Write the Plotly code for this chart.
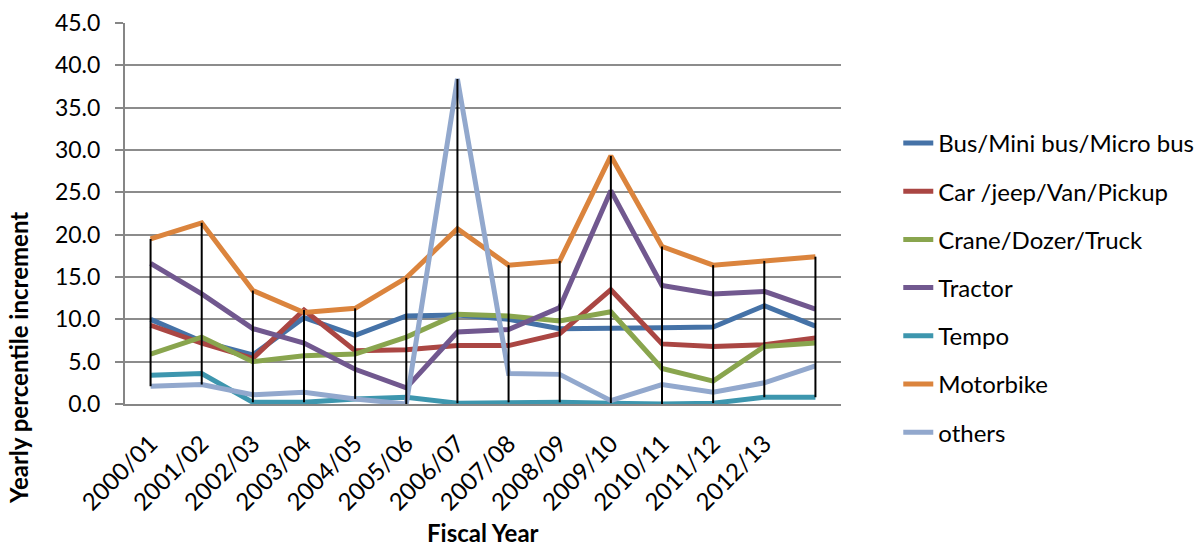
import plotly.graph_objects as go

# ---- data ----
fiscal_years = ["2000/01", "2001/02", "2002/03", "2003/04", "2004/05", "2005/06",
                "2006/07", "2007/08", "2008/09", "2009/10", "2010/11", "2011/12",
                "2012/13", ""]

bus = [10.0, 7.4, 5.8, 10.2, 8.1, 10.4, 10.5, 10.0, 8.9, 8.9, 9.0, 9.1, 11.6, 9.2]
car = [9.3, 7.2, 5.4, 11.1, 6.3, 6.4, 6.9, 6.9, 8.3, 13.5, 7.1, 6.8, 7.0, 7.8]
crane = [5.9, 7.9, 5.0, 5.7, 5.9, 7.9, 10.6, 10.4, 9.8, 10.9, 4.2, 2.7, 6.8, 7.2]
tractor = [16.6, 13.0, 8.9, 7.2, 4.1, 1.9, 8.5, 8.8, 11.4, 25.2, 14.0, 13.0, 13.3, 11.2]
tempo = [3.4, 3.6, 0.2, 0.2, 0.6, 0.8, 0.1, 0.2, 0.2, 0.1, 0.0, 0.1, 0.8, 0.8]
motorbike = [19.5, 21.4, 13.4, 10.8, 11.3, 14.9, 20.7, 16.4, 16.9, 29.3, 18.6, 16.4, 16.9, 17.4]
others = [2.1, 2.3, 1.1, 1.4, 0.6, 0.0, 38.4, 3.6, 3.5, 0.4, 2.3, 1.4, 2.5, 4.5]

series_names = ["Bus/Mini bus/Micro bus", "Car /jeep/Van/Pickup", "Crane/Dozer/Truck",
                "Tractor", "Tempo", "Motorbike", "others"]
series_values = [bus, car, crane, tractor, tempo, motorbike, others]
series_colors = ["#4572A7", "#AA4643", "#89A54E", "#71588F", "#3D96AE", "#DB843D", "#92A8CD"]

y_ticks = [0, 5, 10, 15, 20, 25, 30, 35, 40, 45]

x_title = "Fiscal Year"
y_title = "Yearly percentile increment"

FONT = "Lato, Calibri, Carlito, sans-serif"

x_idx = list(range(len(fiscal_years)))

fig = go.Figure()

for k, (name, vals, col) in enumerate(zip(series_names, series_values, series_colors)):
    fig.add_trace(go.Scatter(x=x_idx, y=vals, mode="lines", name=name,
                             legendgroup=f"g{k}",
                             line=dict(color=col, width=5, shape="linear")))

# high-low lines (from max to min at each category)
hx, hy = [], []
for i in x_idx:
    vals = [s[i] for s in series_values]
    hx += [i, i, None]
    hy += [max(vals), min(vals), None]
fig.add_trace(go.Scatter(x=hx, y=hy, mode="lines", line=dict(color="black", width=2),
                         showlegend=False, hoverinfo="skip"))

fig.update_layout(
    width=1202, height=548,
    paper_bgcolor="white", plot_bgcolor="white",
    margin=dict(l=125, r=361, t=23, b=144, autoexpand=False),
    font=dict(family=FONT, size=23, color="black"),
    showlegend=True,
    legend=dict(x=1.080, y=0.743, xanchor="left", yanchor="top",
                traceorder="grouped", tracegroupgap=14,
                font=dict(family=FONT, size=24, color="black"),
                bgcolor="rgba(0,0,0,0)"),
    annotations=[
        dict(text=f"<b>{x_title}</b>", xref="paper", yref="paper", x=0.5, y=-0.338,
             xanchor="center", yanchor="middle", showarrow=False,
             font=dict(family=FONT, size=24, color="black")),
        dict(text=f"<b>{y_title}</b>", xref="paper", yref="paper", x=-0.148, y=0.121,
             xanchor="center", yanchor="middle", showarrow=False, textangle=-90,
             font=dict(family=FONT, size=24, color="black")),
    ],
)

fig.update_xaxes(
    range=[-0.5, len(fiscal_years) - 0.5],
    tickmode="array", tickvals=x_idx[:-1], ticktext=fiscal_years[:-1],
    tickangle=-45, tickfont=dict(family=FONT, size=24),
    showgrid=False, zeroline=False,
    showline=True, linecolor="#868686", linewidth=2,
    ticks="outside", ticklen=14, tickcolor="rgba(0,0,0,0)",
    automargin=False,
)

fig.update_yaxes(
    range=[0, 45], tickmode="array", tickvals=y_ticks,
    ticktext=[f"{v:.1f}" for v in y_ticks],
    tickfont=dict(family=FONT, size=23),
    showgrid=True, gridcolor="#8C8C8C", gridwidth=2,
    zeroline=False,
    showline=True, linecolor="#868686", linewidth=2,
    ticks="outside", ticklen=8, tickcolor="#868686", tickwidth=2,
    ticklabelstandoff=10, automargin=False,
)

fig.write_html("out.html", config={"displayModeBar": False},
               post_script="document.body.style.margin='0';")
